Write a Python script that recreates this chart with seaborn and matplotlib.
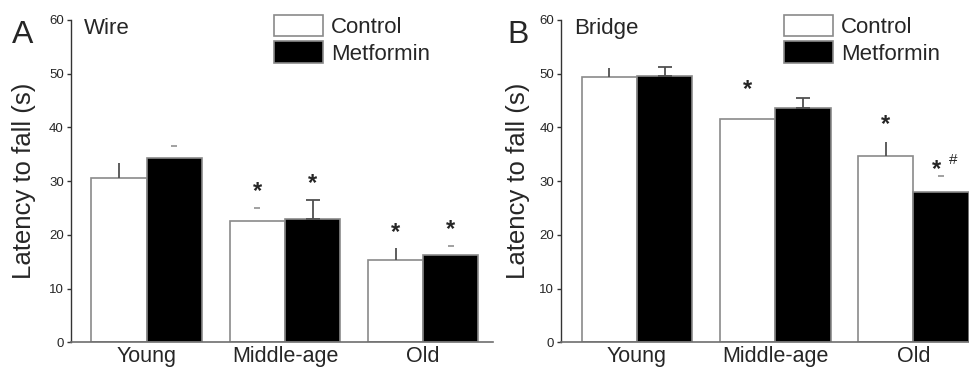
import matplotlib
matplotlib.use('Agg')
import matplotlib.pyplot as plt
import matplotlib.transforms as mtransforms
from matplotlib.patches import Patch
import pandas as pd
import seaborn as sns

# data (mean and SEM, seconds)
groups = ['Young', 'Middle-age', 'Old']
treatments = ['Control', 'Metformin']

wire_control = [30.5, 22.5, 15.4]
wire_control_sem = [2.9, 2.5, 2.1]
wire_metformin = [34.3, 23.0, 16.3]
wire_metformin_sem = [2.3, 3.4, 1.6]

bridge_control = [49.4, 41.6, 34.7]
bridge_control_sem = [1.6, 0.0, 2.5]
bridge_metformin = [49.6, 43.7, 28.0]
bridge_metformin_sem = [1.7, 1.8, 3.0]

# how each error bar shows up in the original (full stem or only the cap dash)
wire_err_kind = [['stem', 'dash', 'stem'], ['dash', 'stem', 'dash']]
bridge_err_kind = [['stem', 'none', 'stem'], ['stem', 'stem', 'dash']]

# significance marks: (treatment index, group index, y of mark centre, text)
wire_marks = [(0, 1, 29.6, '*'), (1, 1, 31.0, '*'), (0, 2, 22.0, '*'), (1, 2, 22.6, '*')]
bridge_marks = [(0, 1, 48.5, '*'), (0, 2, 42.0, '*'), (1, 2, 33.7, '*#')]

sns.set_style('white')
plt.rcParams['font.family'] = ['Liberation Sans', 'DejaVu Sans']

fig = plt.figure(figsize=(9.69, 3.71), dpi=100)
fig.patch.set_facecolor('white')

ax_w = 0.4358
ax_h = 0.8687
ax_b = 0.0774


def make_df(ctrl, metf):
    rows = []
    for g, v in zip(groups, ctrl):
        rows.append({'group': g, 'treatment': 'Control', 'value': v})
    for g, v in zip(groups, metf):
        rows.append({'group': g, 'treatment': 'Metformin', 'value': v})
    return pd.DataFrame(rows)


def draw_panel(ax, ctrl, ctrl_sem, metf, metf_sem, kinds, marks, letter, title,
               ylab_x, letter_x):
    df = make_df(ctrl, metf)
    sns.barplot(data=df, x='group', y='value', hue='treatment', order=groups,
                hue_order=treatments, palette=['white', 'black'],
                edgecolor='#8a8a8a', linewidth=1.2, width=0.8,
                errorbar=None, legend=False, ax=ax)

    centers = [p.get_x() + p.get_width() / 2 for p in ax.patches]
    xs = [centers[0:3], centers[3:6]]
    means = [ctrl, metf]
    sems = [ctrl_sem, metf_sem]

    for t in range(2):
        for i in range(3):
            x, m, e, k = xs[t][i], means[t][i], sems[t][i], kinds[t][i]
            if k == 'stem':
                cap = 0 if t == 0 else 5
                ax.errorbar(x, m, yerr=[[0], [e]], fmt='none', ecolor='#505050',
                            elinewidth=1.3, capsize=cap, capthick=1.3, zorder=3)
            elif k == 'dash':
                ax.plot(x, m + e, marker='_', markersize=5, color='#9a9a9a',
                        mew=1.3, zorder=3)

    for t, i, y, s in marks:
        x = xs[t][i]
        fs = 17
        tr = mtransforms.offset_copy(ax.transData, fig=fig, y=-0.62 * fs, units='points')
        if s == '*':
            ax.text(x, y, '*', ha='center', va='baseline', fontsize=fs,
                    fontweight='bold', transform=tr)
        else:
            ax.text(x - 0.03, y, '*', ha='center', va='baseline', fontsize=fs,
                    fontweight='bold', transform=tr)
            tr2 = mtransforms.offset_copy(ax.transData, fig=fig, y=-0.3 * 12, units='points')
            ax.text(x + 0.09, y + 0.4, '#', ha='center', va='baseline', fontsize=11,
                    transform=tr2)

    ax.set_xlim(-0.55, 2.505)
    ax.set_ylim(0, 60)
    ax.set_yticks([0, 10, 20, 30, 40, 50, 60])
    ax.set_xlabel('')
    ax.set_ylabel('Latency to fall (s)', fontsize=18.5)
    ax.yaxis.set_label_coords(ylab_x, 0.5)
    ax.tick_params(axis='y', which='both', left=True, direction='out', length=3,
                   width=1, color='#333333', labelsize=9.5, pad=2)
    ax.tick_params(axis='x', length=0, labelsize=15.5, pad=2.6)
    sns.despine(ax=ax)
    ax.spines['left'].set_color('#333333')
    ax.spines['bottom'].set_color('#6e6e6e')
    ax.spines['left'].set_linewidth(1.0)
    ax.spines['bottom'].set_linewidth(1.2)

    ax.text(0.032, 0.974, title, transform=ax.transAxes, fontsize=16,
            ha='left', va='center')
    fig.text(letter_x, 1 - 35 / 371, letter, fontsize=23, ha='left', va='center')

    handles = [Patch(facecolor='white', edgecolor='#8a8a8a', linewidth=1.2),
               Patch(facecolor='black', edgecolor='#8a8a8a', linewidth=1.2)]
    return handles


ax1 = fig.add_axes([70.7 / 969, ax_b, ax_w, ax_h])
h = draw_panel(ax1, wire_control, wire_control_sem, wire_metformin, wire_metformin_sem,
               wire_err_kind, wire_marks, 'A', 'Wire', -0.082, 12 / 969)
ax1.legend(h, treatments, loc='upper left', bbox_to_anchor=(274 / 969, 1 - 15 / 371),
           bbox_transform=fig.transFigure, frameon=False, fontsize=16,
           handlelength=2.2, handleheight=1.1, handletextpad=0.36,
           labelspacing=0.14, borderpad=0, borderaxespad=0)

ax2 = fig.add_axes([561 / 969, ax_b, ax_w, ax_h])
h = draw_panel(ax2, bridge_control, bridge_control_sem, bridge_metformin, bridge_metformin_sem,
               bridge_err_kind, bridge_marks, 'B', 'Bridge', -0.073, 507 / 969)
ax2.legend(h, treatments, loc='upper left', bbox_to_anchor=(784 / 969, 1 - 15 / 371),
           bbox_transform=fig.transFigure, frameon=False, fontsize=16,
           handlelength=2.2, handleheight=1.1, handletextpad=0.36,
           labelspacing=0.14, borderpad=0, borderaxespad=0)

fig.savefig('out.png', dpi=100)
